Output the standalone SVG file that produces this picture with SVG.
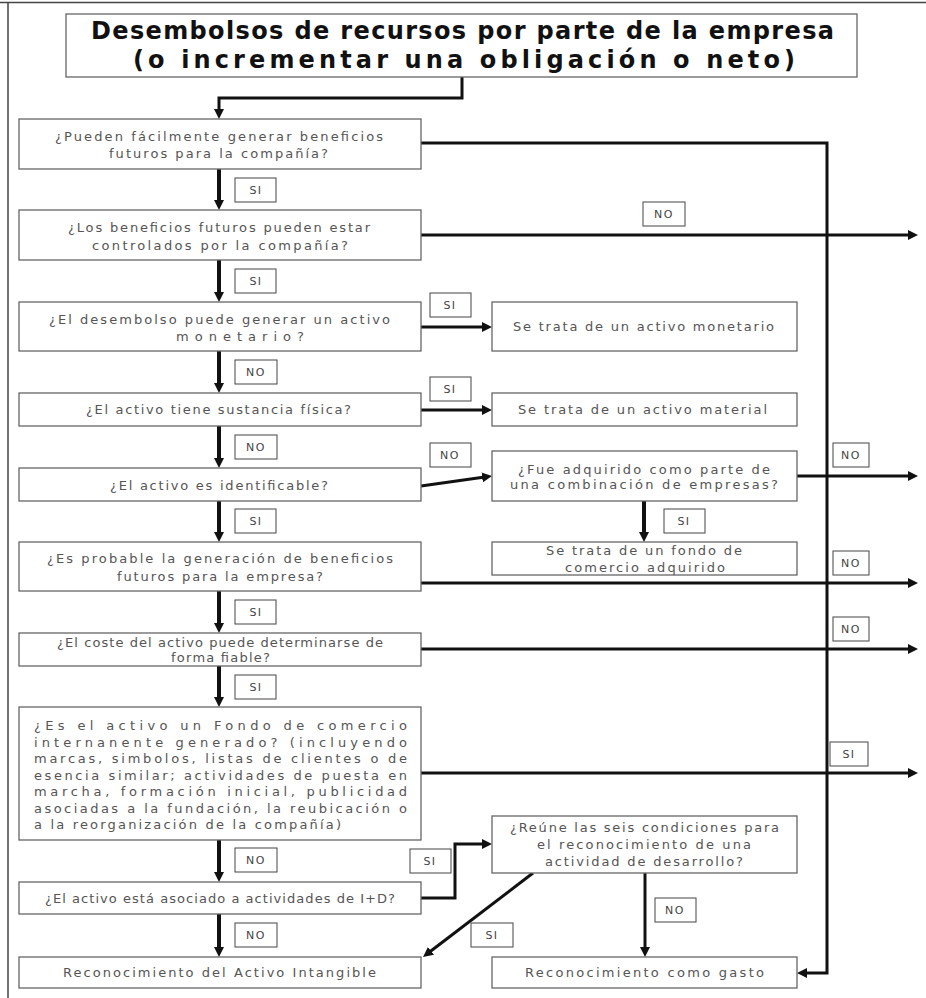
<svg xmlns="http://www.w3.org/2000/svg" width="926" height="998" viewBox="0 0 926 998">
<defs>
<style>
.box{fill:#fff;stroke:#666;stroke-width:1.3}
.lbl{fill:#fff;stroke:#555;stroke-width:1.1}
.t{font-family:"DejaVu Sans","Liberation Sans",sans-serif;font-size:13px;fill:#555}
.lt{font-family:"DejaVu Sans","Liberation Sans",sans-serif;font-size:11px;fill:#444;letter-spacing:1.5px;text-anchor:middle}
.title{font-family:"DejaVu Sans","Liberation Sans",sans-serif;font-size:24px;font-weight:bold;fill:#111}
.c{fill:none;stroke:#111;stroke-width:3}
.cv{fill:none;stroke:#111;stroke-width:4}
</style>
<marker id="ah" viewBox="0 0 10 10" refX="1" refY="5" markerWidth="10" markerHeight="10" markerUnits="userSpaceOnUse" orient="auto"><path d="M0,0 L10,5 L0,10 z" fill="#111"/></marker>
</defs>
<rect width="926" height="998" fill="#fff"/>
<path d="M0,2.5 H926 M8,2.5 V998" fill="none" stroke="#444" stroke-width="1.5"/>

<g id="connectors">
<path class="c" d="M462,77 V98 H219 V110" marker-end="url(#ah)"/>
<path class="cv" d="M219,169 V201" marker-end="url(#ah)"/>
<path class="cv" d="M219,260 V293" marker-end="url(#ah)"/>
<path class="cv" d="M219,351 V384" marker-end="url(#ah)"/>
<path class="cv" d="M219,426 V459" marker-end="url(#ah)"/>
<path class="cv" d="M219,501 V533" marker-end="url(#ah)"/>
<path class="cv" d="M219,591 V624" marker-end="url(#ah)"/>
<path class="cv" d="M219,666 V698" marker-end="url(#ah)"/>
<path class="cv" d="M219,840 V873" marker-end="url(#ah)"/>
<path class="cv" d="M219,914 V948" marker-end="url(#ah)"/>
<path class="c" d="M421,143 H827 V973 H806" marker-end="url(#ah)"/>
<path class="c" d="M421,235 H909" marker-end="url(#ah)"/>
<path class="c" d="M421,327 H483" marker-end="url(#ah)"/>
<path class="c" d="M421,410 H483" marker-end="url(#ah)"/>
<path class="c" d="M421,486 L483.1,477.3" marker-end="url(#ah)"/>
<path class="c" d="M797,476 H909" marker-end="url(#ah)"/>
<path class="cv" d="M644,501 V533" marker-end="url(#ah)"/>
<path class="c" d="M421,583 H909" marker-end="url(#ah)"/>
<path class="c" d="M421,649 H909" marker-end="url(#ah)"/>
<path class="c" d="M421,773 H909" marker-end="url(#ah)"/>
<path class="c" d="M421,898 H455 V844 H483" marker-end="url(#ah)"/>
<path class="c" d="M533,873 L430.2,951.5" marker-end="url(#ah)"/>
<path class="c" d="M645,873 V948" marker-end="url(#ah)"/>
</g>

<g id="labels">
<rect class="lbl" x="235" y="178" width="41" height="24"/><text class="lt" x="256" y="194">SI</text>
<rect class="lbl" x="235" y="269" width="41" height="24"/><text class="lt" x="256" y="285">SI</text>
<rect class="lbl" x="643" y="202" width="42" height="24"/><text class="lt" x="664" y="218">NO</text>
<rect class="lbl" x="430" y="293" width="41" height="24"/><text class="lt" x="450" y="309">SI</text>
<rect class="lbl" x="235" y="360" width="42" height="24"/><text class="lt" x="256" y="376">NO</text>
<rect class="lbl" x="430" y="377" width="41" height="24"/><text class="lt" x="450" y="393">SI</text>
<rect class="lbl" x="235" y="435" width="42" height="24"/><text class="lt" x="256" y="451">NO</text>
<rect class="lbl" x="430" y="443" width="41" height="24"/><text class="lt" x="450" y="459">NO</text>
<rect class="lbl" x="833" y="443" width="36" height="24"/><text class="lt" x="851" y="459">NO</text>
<rect class="lbl" x="235" y="509" width="41" height="24"/><text class="lt" x="256" y="525">SI</text>
<rect class="lbl" x="664" y="509" width="41" height="24"/><text class="lt" x="684" y="525">SI</text>
<rect class="lbl" x="833" y="551" width="36" height="24"/><text class="lt" x="851" y="567">NO</text>
<rect class="lbl" x="235" y="600" width="41" height="24"/><text class="lt" x="256" y="616">SI</text>
<rect class="lbl" x="833" y="617" width="36" height="24"/><text class="lt" x="851" y="633">NO</text>
<rect class="lbl" x="235" y="675" width="41" height="24"/><text class="lt" x="256" y="691">SI</text>
<rect class="lbl" x="830" y="742" width="38" height="24"/><text class="lt" x="849" y="758">SI</text>
<rect class="lbl" x="235" y="848" width="42" height="24"/><text class="lt" x="256" y="864">NO</text>
<rect class="lbl" x="410" y="849" width="41" height="24"/><text class="lt" x="430" y="865">SI</text>
<rect class="lbl" x="655" y="898" width="41" height="24"/><text class="lt" x="675" y="914">NO</text>
<rect class="lbl" x="235" y="923" width="42" height="24"/><text class="lt" x="256" y="939">NO</text>
<rect class="lbl" x="471" y="923" width="42" height="24"/><text class="lt" x="492" y="939">SI</text>
</g>

<g id="title">
<rect class="box" x="66" y="14" width="791" height="63"/>
<text class="title" x="91" y="39" textLength="743" lengthAdjust="spacing">Desembolsos de recursos por parte de la empresa</text>
<text class="title" x="133" y="68" textLength="662" lengthAdjust="spacing">(o incrementar una obligación o neto)</text>
</g>

<g id="q1">
<rect class="box" x="19" y="119" width="402" height="50"/>
<text class="t" x="55" y="141" textLength="328" lengthAdjust="spacing">¿Pueden fácilmente generar beneficios</text>
<text class="t" x="109" y="158" textLength="219" lengthAdjust="spacing">futuros para la compañía?</text>
</g>
<g id="q2">
<rect class="box" x="19" y="210" width="402" height="50"/>
<text class="t" x="68" y="232" textLength="302" lengthAdjust="spacing">¿Los beneficios futuros pueden estar</text>
<text class="t" x="92" y="250" textLength="256" lengthAdjust="spacing">controlados por la compañía?</text>
</g>
<g id="q3">
<rect class="box" x="19" y="302" width="402" height="49"/>
<text class="t" x="49" y="324" textLength="341" lengthAdjust="spacing">¿El desembolso puede generar un activo</text>
<text class="t" x="176" y="341" textLength="128" lengthAdjust="spacing">monetario?</text>
</g>
<g id="q4">
<rect class="box" x="19" y="393" width="402" height="33"/>
<text class="t" x="86" y="414" textLength="265" lengthAdjust="spacing">¿El activo tiene sustancia física?</text>
</g>
<g id="q5">
<rect class="box" x="19" y="468" width="402" height="33"/>
<text class="t" x="110" y="490" textLength="218" lengthAdjust="spacing">¿El activo es identificable?</text>
</g>
<g id="q6">
<rect class="box" x="19" y="542" width="402" height="49"/>
<text class="t" x="47" y="563" textLength="346" lengthAdjust="spacing">¿Es probable la generación de beneficios</text>
<text class="t" x="117" y="581" textLength="206" lengthAdjust="spacing">futuros para la empresa?</text>
</g>
<g id="q7">
<rect class="box" x="19" y="633" width="402" height="33"/>
<text class="t" x="57" y="647" textLength="326" lengthAdjust="spacing">¿El coste del activo puede determinarse de</text>
<text class="t" x="171" y="662" textLength="99" lengthAdjust="spacing">forma fiable?</text>
</g>
<g id="q8">
<rect class="box" x="19" y="707" width="402" height="133"/>
<text class="t" x="34" y="730" textLength="373" lengthAdjust="spacing">¿Es el activo un Fondo de comercio</text>
<text class="t" x="34" y="747" textLength="373" lengthAdjust="spacing">internanente generado? (incluyendo</text>
<text class="t" x="34" y="763" textLength="373" lengthAdjust="spacing">marcas, simbolos, listas de clientes o de</text>
<text class="t" x="34" y="780" textLength="373" lengthAdjust="spacing">esencia similar; actividades de puesta en</text>
<text class="t" x="34" y="796" textLength="373" lengthAdjust="spacing">marcha, formación inicial, publicidad</text>
<text class="t" x="34" y="813" textLength="373" lengthAdjust="spacing">asociadas a la fundación, la reubicación o</text>
<text class="t" x="34" y="829" textLength="307" lengthAdjust="spacing">a la reorganización de la compañía)</text>
</g>
<g id="q9">
<rect class="box" x="19" y="882" width="402" height="32"/>
<text class="t" x="45" y="903" textLength="350" lengthAdjust="spacing">¿El activo está asociado a actividades de I+D?</text>
</g>
<g id="r-intangible">
<rect class="box" x="19" y="957" width="402" height="31"/>
<text class="t" x="63" y="977" textLength="313" lengthAdjust="spacing">Reconocimiento del Activo Intangible</text>
</g>
<g id="r-monetario">
<rect class="box" x="492" y="302" width="305" height="49"/>
<text class="t" x="513" y="331" textLength="261" lengthAdjust="spacing">Se trata de un activo monetario</text>
</g>
<g id="r-material">
<rect class="box" x="492" y="393" width="305" height="33"/>
<text class="t" x="518" y="414" textLength="249" lengthAdjust="spacing">Se trata de un activo material</text>
</g>
<g id="q-combinacion">
<rect class="box" x="492" y="451" width="305" height="50"/>
<text class="t" x="518" y="474" textLength="252" lengthAdjust="spacing">¿Fue adquirido como parte de</text>
<text class="t" x="510" y="489" textLength="268" lengthAdjust="spacing">una combinación de empresas?</text>
</g>
<g id="r-fondo">
<rect class="box" x="492" y="542" width="305" height="33"/>
<text class="t" x="546" y="555" textLength="196" lengthAdjust="spacing">Se trata de un fondo de</text>
<text class="t" x="565" y="572" textLength="160" lengthAdjust="spacing">comercio adquirido</text>
</g>
<g id="q-desarrollo">
<rect class="box" x="492" y="816" width="305" height="57"/>
<text class="t" x="510" y="832" textLength="269" lengthAdjust="spacing">¿Reúne las seis condiciones para</text>
<text class="t" x="537" y="849" textLength="214" lengthAdjust="spacing">el reconocimiento de una</text>
<text class="t" x="545" y="866" textLength="198" lengthAdjust="spacing">actividad de desarrollo?</text>
</g>
<g id="r-gasto">
<rect class="box" x="492" y="957" width="305" height="31"/>
<text class="t" x="525" y="977" textLength="239" lengthAdjust="spacing">Reconocimiento como gasto</text>
</g>
</svg>
